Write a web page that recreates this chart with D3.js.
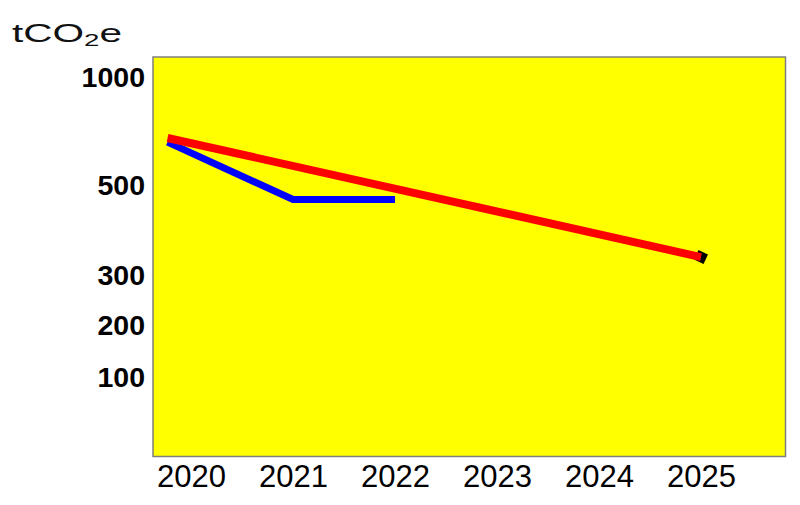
<!DOCTYPE html>
<html>
<head>
<meta charset="utf-8">
<script src="https://cdn.jsdelivr.net/npm/d3@7"></script>
<style>
  body { margin: 0; background: #fff; }
  text { font-family: Arial, "Liberation Sans", sans-serif; }
</style>
</head>
<body>
<div id="container"></div>
<script>
/* DATA */
const yearTicks = [2020, 2021, 2022, 2023, 2024, 2025]
const valueTicks = [100, 200, 300, 500, 1000]

// red: target path
const targetYears = [2019.77, 2025]
const targetValues = [719, 341]

// blue: actual emissions
const actualYears = [2019.77, 2021, 2022]
const actualValues = [700, 469, 469]

/* CONSTANTS */
const width = 800,
  height = 505,
  plot = { left: 153, top: 57, right: 785.5, bottom: 456.5 }

const svg = d3.select("#container")
  .append("svg")
  .attr("width", width)
  .attr("height", height)

/* SCALES */
const xScale = d3.scaleLinear()
  .domain([2020, 2025])
  .range([191, 701])

// the value axis is not evenly spaced in the picture, so map it piece by piece
const yScale = d3.scaleLinear()
  .domain(valueTicks)
  .range([377, 325.5, 275.5, 185.5, 77])

// plot background
svg.append("rect")
  .attr("x", plot.left)
  .attr("y", plot.top)
  .attr("width", plot.right - plot.left)
  .attr("height", plot.bottom - plot.top)
  .attr("fill", "#ffff00")
  .attr("stroke", "#7f7f7f")
  .attr("stroke-width", 1.5)

/* AXES */
const yAxis = svg.append("g")
  .attr("transform", "translate(145,0)")
  .call(d3.axisLeft(yScale).tickValues(valueTicks).tickSize(0).tickPadding(0).tickFormat(d3.format("d")))
yAxis.select(".domain").remove()
yAxis.selectAll("text")
  .attr("font-size", 28.5)
  .attr("font-weight", "bold")
  .attr("fill", "#000")
  .attr("font-family", "Arial, 'Liberation Sans', sans-serif")

const xAxis = svg.append("g")
  .attr("transform", `translate(0,${plot.bottom})`)
  .call(d3.axisBottom(xScale).tickValues(yearTicks).tickSize(0).tickPadding(8).tickFormat(d3.format("d")))
xAxis.select(".domain").remove()
xAxis.selectAll("text")
  .attr("font-size", 31)
  .attr("fill", "#000")
  .attr("font-family", "Arial, 'Liberation Sans', sans-serif")

// unit label
const unit = svg.append("text")
  .attr("x", 12)
  .attr("y", 42)
  .attr("font-size", 25)
  .attr("fill", "#111")
  .attr("textLength", 110)
  .attr("lengthAdjust", "spacingAndGlyphs")
unit.append("tspan").text("tCO")
unit.append("tspan").attr("font-size", 17).attr("dy", 4).text("2")
unit.append("tspan").attr("dy", -4).text("e")

/* LINES */
const line = d3.line()
  .x(d => xScale(d[0]))
  .y(d => yScale(d[1]))

const actual = d3.zip(actualYears, actualValues)
const target = d3.zip(targetYears, targetValues)

svg.append("path")
  .datum(actual)
  .attr("d", line)
  .attr("fill", "none")
  .attr("stroke", "#0000ff")
  .attr("stroke-width", 7)

// end marker behind the red line
const last = target[target.length - 1]
svg.append("path")
  .attr("d", d3.symbol(d3.symbolSquare, 110)())
  .attr("transform", `translate(${xScale(last[0])},${yScale(last[1])}) rotate(25)`)
  .attr("fill", "#000")

svg.append("path")
  .datum(target)
  .attr("d", line)
  .attr("fill", "none")
  .attr("stroke", "#ff0000")
  .attr("stroke-width", 8)
</script>
</body>
</html>
